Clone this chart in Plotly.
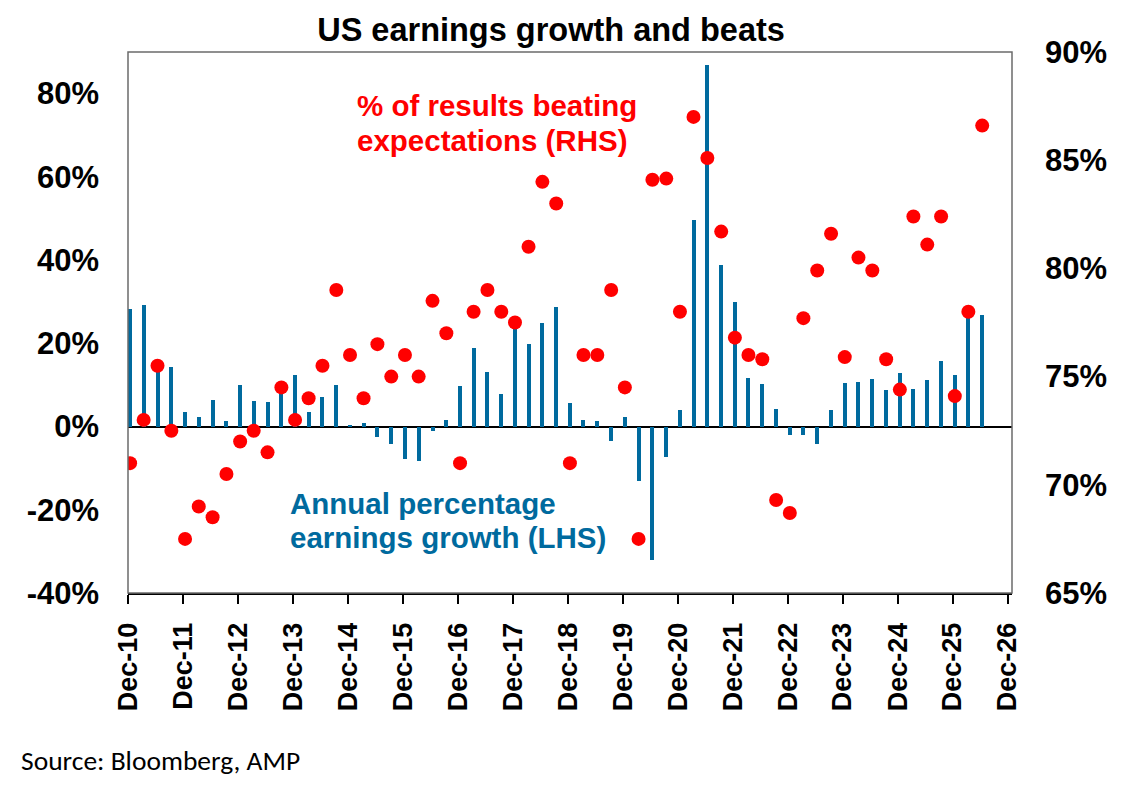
import pandas as pd
import plotly.graph_objects as go

# quarterly observations, Dec-10 .. Jun-26
dates = pd.date_range("2010-12-01", periods=63, freq="3MS") + pd.Timedelta(days=14)

# annual % earnings growth (LHS)
growth = [28.3, 29.1, 14.5, 14.3, 3.4, 2.2, 6.3, 1.4, 10.0, 6.2,
          5.8, 9.0, 12.4, 3.5, 7.1, 10.1, 0.4, 0.8, -2.6, -4.2,
          -7.8, -8.2, -1.1, 1.6, 9.8, 18.9, 13.1, 7.8, 24.5, 19.8,
          24.9, 28.8, 5.7, 1.6, 1.4, -3.4, 2.4, -13.0, -32.0, -7.2,
          4.0, 49.6, 86.8, 38.8, 29.9, 11.7, 10.3, 4.2, -2.0, -2.0,
          -4.3, 3.9, 10.4, 10.7, 11.5, 8.8, 12.9, 9.1, 11.2, 15.7,
          12.5, 27.5, 26.9]

# % of results beating expectations (RHS)
beats = [71.0, 73.0, 75.5, 72.5, 67.5, 69.0, 68.5, 70.5, 72.0, 72.5,
         71.5, 74.5, 73.0, 74.0, 75.5, 79.0, 76.0, 74.0, 76.5, 75.0,
         76.0, 75.0, 78.5, 77.0, 71.0, 78.0, 79.0, 78.0, 77.5, 81.0,
         84.0, 83.0, 71.0, 76.0, 76.0, 79.0, 74.5, 67.5, 84.1, 84.15,
         78.0, 87.0, 85.1, 81.7, 76.8, 76.0, 75.8, 69.3, 68.7, 77.7,
         79.9, 81.6, 75.9, 80.5, 79.9, 75.8, 74.4, 82.4, 81.1, 82.4,
         74.1, 78.0, 86.6]

lhs_ticks = [-40, -20, 0, 20, 40, 60, 80]
lhs_text = ["-40%", "-20%", "0%", "20%", "40%", "60%", "80%"]
rhs_ticks = [65, 70, 75, 80, 85, 90]
rhs_text = ["65%", "70%", "75%", "80%", "85%", "90%"]

BLUE = "#006A9E"
RED = "#FF0000"
ARIAL = "Liberation Sans, Arial"
tickfont = dict(family=ARIAL, size=31, color="black", weight="bold")

fig = go.Figure()
fig.add_trace(go.Bar(
    x=dates, y=growth, marker_color=BLUE, marker_line_width=0,
    width=2.3e9, yaxis="y", showlegend=False,
))
fig.add_trace(go.Scatter(
    x=dates, y=beats, mode="markers", yaxis="y2",
    marker=dict(size=14, color=RED), showlegend=False,
))

# page has an 8px body margin, so margins are shifted to compensate
fig.update_layout(
    width=1137, height=789,
    margin=dict(l=120, r=133, t=44, b=204, autoexpand=False),
    paper_bgcolor="white", plot_bgcolor="white",
    title=dict(text="US earnings growth and beats", x=0.4776, xref="container",
               y=0.972, yanchor="middle", xanchor="center",
               font=dict(family=ARIAL, size=32.5, color="black", weight="bold")),
    xaxis=dict(
        type="date", range=["2010-12-01", "2026-12-30"],
        tick0="2010-12-01", dtick="M12", tickformat="%b-%y",
        tickangle=-90, ticks="outside", ticklen=9, tickwidth=1.5, tickcolor="black",
        tickfont=dict(family=ARIAL, size=27, color="black", weight="bold"),
        ticklabelstandoff=8,
        showline=True, linecolor="black", linewidth=2, showgrid=False,
    ),
    yaxis=dict(
        range=[-40, 90], tickvals=lhs_ticks, ticktext=lhs_text,
        tickfont=tickfont, showgrid=False, ticks="", ticklabelstandoff=28,
        zeroline=True, zerolinecolor="black", zerolinewidth=1.5,
    ),
    yaxis2=dict(
        range=[65, 90], tickvals=rhs_ticks, ticktext=rhs_text,
        overlaying="y", side="right", tickfont=tickfont, showgrid=False,
        ticks="", zeroline=False, ticklabelstandoff=32,
    ),
    bargap=0,
)

# plot frame
fig.add_shape(type="rect", xref="paper", yref="paper", x0=0, y0=0, x1=1, y1=1,
              line=dict(color="#6b6b6b", width=1.5), layer="above")

red_lines = ["% of results beating", "expectations (RHS)"]
blue_lines = ["Annual percentage", "earnings growth (LHS)"]
for txt, yy in zip(red_lines, [0.902, 0.837]):
    fig.add_annotation(
        text=txt, xref="paper", yref="paper", x=0.2568, y=yy,
        xanchor="left", yanchor="middle", showarrow=False,
        font=dict(family=ARIAL, size=29.5, color=RED, weight="bold"),
    )
for txt, yy in zip(blue_lines, [0.166, 0.103]):
    fig.add_annotation(
        text=txt, xref="paper", yref="paper", x=0.1811, y=yy,
        xanchor="left", yanchor="middle", showarrow=False,
        font=dict(family=ARIAL, size=29.5, color=BLUE, weight="bold"),
    )
fig.add_annotation(
    text="Source: Bloomberg, AMP", xref="paper", yref="paper",
    x=-0.123, y=-0.3087, xanchor="left", yanchor="middle", showarrow=False,
    font=dict(family="Carlito, Lato, sans-serif", size=27.5, color="black"),
)

fig.write_html("out.html")
